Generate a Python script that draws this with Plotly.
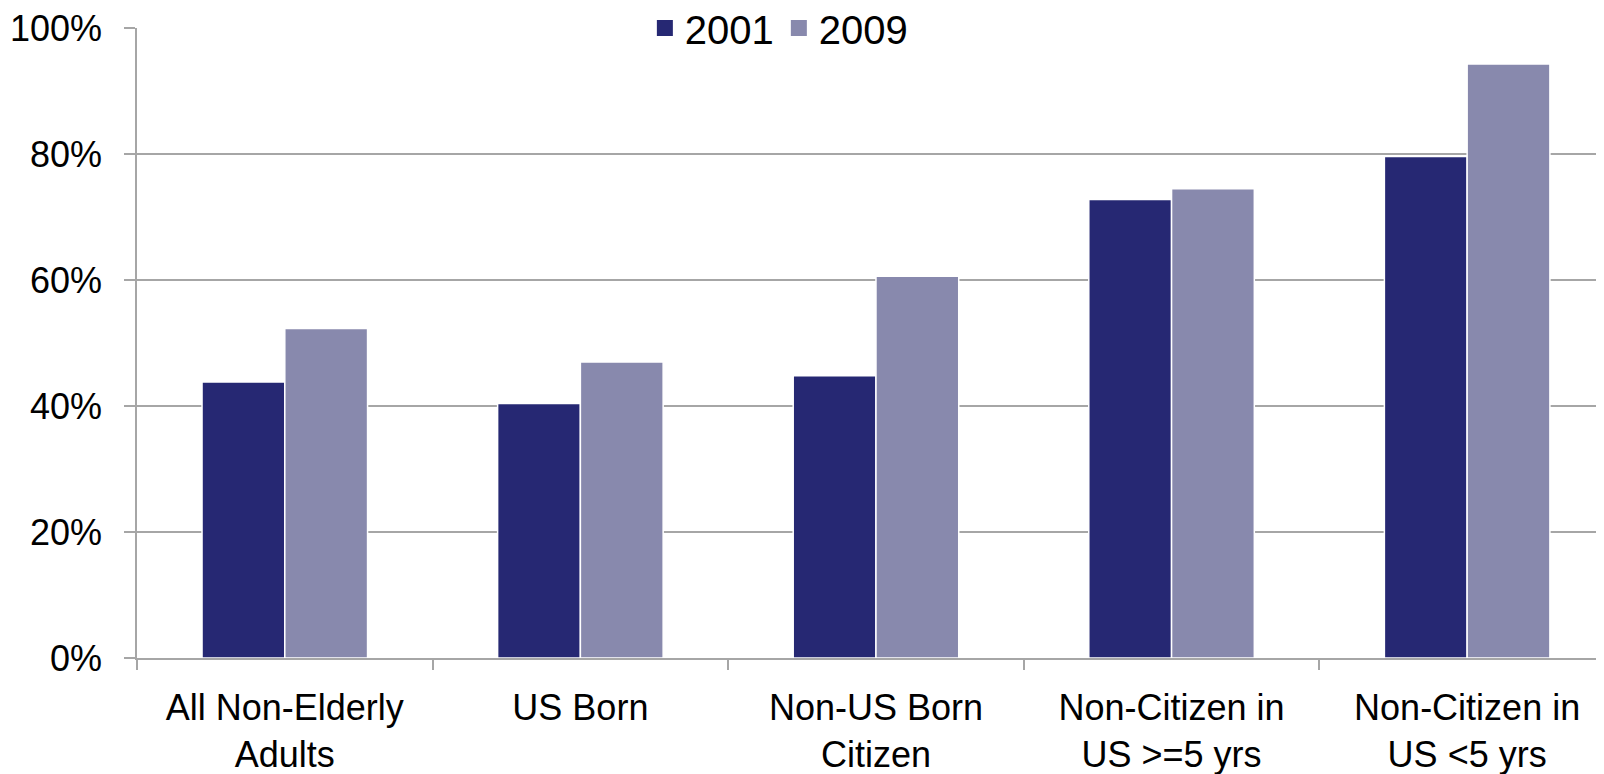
import plotly.graph_objects as go

categories = ["All Non-Elderly<br>Adults", "US Born", "Non-US Born<br>Citizen",
              "Non-Citizen in<br>US >=5 yrs", "Non-Citizen in<br>US <5 yrs"]
values_2001 = [43.8, 40.4, 44.8, 72.8, 79.6]
values_2009 = [52.3, 47.0, 60.6, 74.5, 94.3]
y_ticks = [0, 20, 40, 60, 80, 100]
y_tick_labels = ["0%", "20%", "40%", "60%", "80%", "100%"]
series_names = ["2001", "2009"]
series_colors = ["#262873", "#8889AD"]

FONT = "Arial, Liberation Sans, sans-serif"
GRID = "#A6A6A6"
W, H = 1596, 766  # page body has an 8px default margin

fig = go.Figure()
for name, vals, col in zip(series_names, [values_2001, values_2009], series_colors):
    fig.add_trace(go.Bar(name=name, x=categories, y=vals, showlegend=False,
                         marker=dict(color=col, line=dict(color="white", width=1.5))))
# legend entries with larger square swatches
for name, col in zip(series_names, series_colors):
    fig.add_trace(go.Scatter(name=name, x=[categories[0]], y=[None], mode="markers",
                             marker=dict(symbol="square", size=16, color=col),
                             showlegend=True, hoverinfo="skip"))

fig.update_layout(
    width=W, height=H,
    margin=dict(l=129, r=0, t=20, b=116, autoexpand=False),
    paper_bgcolor="white", plot_bgcolor="white",
    barmode="group", bargap=0.44, bargroupgap=0,
    font=dict(family=FONT, color="black", size=36),
    showlegend=True,
    legend=dict(orientation="h", xref="container", yref="container",
                x=0.483, xanchor="center", y=1 - 20 / H, yanchor="middle",
                bgcolor="white", font=dict(size=40), itemwidth=30,
                tracegroupgap=0),
)
fig.update_xaxes(
    range=[-0.5, 4.463], showgrid=False, showline=True, linecolor=GRID, linewidth=1.5,
    ticks="outside", tickson="boundaries", ticklen=10, tickcolor=GRID, tickwidth=1.5,
    tickfont=dict(size=36), ticklabelstandoff=17, automargin=False,
)
fig.update_yaxes(
    range=[0, 100.02], tickvals=y_ticks, ticktext=y_tick_labels, showgrid=True,
    gridcolor=GRID, gridwidth=1.5,
    showline=True, linecolor=GRID, linewidth=1.5, ticks="outside", ticklen=11,
    tickcolor=GRID, tickwidth=1.5, tickfont=dict(size=36), ticklabelstandoff=15,
    ticklabeloverflow="allow", zeroline=False, automargin=False,
)

fig.write_html("out.html")
